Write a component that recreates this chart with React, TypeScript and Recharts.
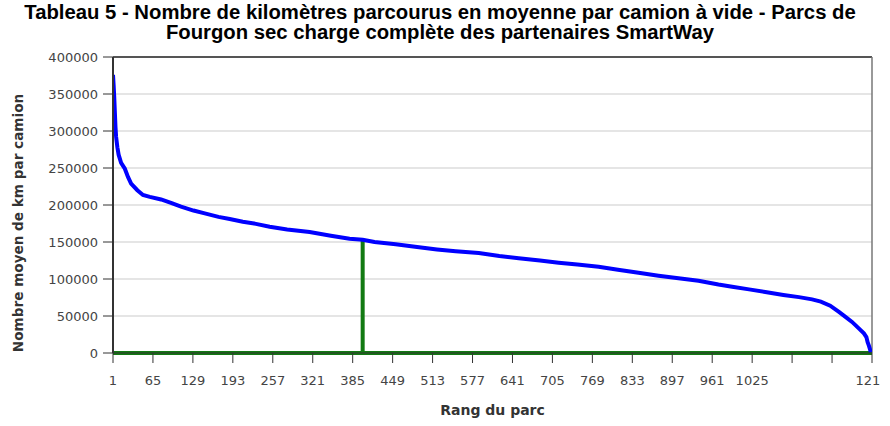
import { CartesianGrid, Line, LineChart, ReferenceLine, XAxis, YAxis } from "recharts";

const fleetRanks = [
  1, 2, 3, 4, 5, 6, 8, 10, 14, 20, 25, 30, 40, 49, 60, 78, 95, 110, 130, 148, 170, 188, 209, 230,
  252, 280, 316, 350, 380, 401, 420, 454, 485, 520, 550, 587, 620, 651, 685, 715, 745, 779, 810,
  843, 875, 907, 939, 971, 993, 1020, 1046, 1075, 1100, 1121, 1135, 1150, 1164, 1175, 1185, 1195,
  1204, 1208, 1210, 1212, 1214, 1215
];
const fleetKm = [
  376000, 362000, 345000, 325000, 305000, 292000, 278000, 268000, 257000, 249000, 238000, 229000,
  220000, 213500, 211000, 207500, 202500, 197700, 192500, 188700, 184000, 181000, 177400, 174500,
  170600, 167000, 163500, 158500, 154500, 153000, 150000, 147000, 143500, 140000, 137500, 135000,
  131000, 128000, 125000, 122000, 119500, 116500, 112500, 108500, 104500, 101000, 97500, 92500,
  89500, 86000, 82500, 78500, 75500, 72500, 69500, 64000, 55500, 48500, 42000, 34000, 26500,
  21500, 14500, 10000, 4500, 1000
];

// green marker: baseline plus the highlighted fleet position
const markerRanks = [1, 401, 401, 401, 1217];
const markerKm = [0, 0, 153000, 0, 0];

const xTicks = [1, 65, 129, 193, 257, 321, 385, 449, 513, 577, 641, 705, 769, 833, 897, 961, 1025, 1089, 1153, 1217];
const xHiddenTicks = [1089, 1153];
const yTicks = [0, 50000, 100000, 150000, 200000, 250000, 300000, 350000, 400000];

const fleetData = fleetRanks.map((rank, i) => ({ rank, km: fleetKm[i] }));
const markerData = markerRanks.map((rank, i) => ({ rank, km: markerKm[i] }));

const tickFont = { fill: "#444", fontSize: 13, fontFamily: "DejaVu Sans, Verdana, sans-serif" };

export default function App() {
  return (
    <div style={{ position: "absolute", left: 0, top: 0, width: 890, height: 426, background: "#fff" }}>
      <div
        style={{
          position: "absolute",
          top: 2,
          left: 0,
          width: 880,
          textAlign: "center",
          fontFamily: "'Liberation Sans', Arial, sans-serif",
          fontWeight: "bold",
          fontSize: 20.3,
          lineHeight: "20px",
          color: "#000"
        }}
      >
        Tableau 5 - Nombre de kilomètres parcourus en moyenne par camion à vide - Parcs de
        <br />
        Fourgon sec charge complète des partenaires SmartWay
      </div>
      <div style={{ position: "absolute", left: 0, top: 0 }}>
        <LineChart width={880} height={426} margin={{ top: 57, right: 8, bottom: 0, left: 0 }}>
          <CartesianGrid vertical={false} stroke="#dddddd" strokeWidth={1.5} />
          <XAxis
            dataKey="rank"
            type="number"
            domain={[1, 1217]}
            ticks={xTicks}
            interval={0}
            allowDataOverflow
            height={73}
            tickSize={10}
            tickMargin={13}
            tick={tickFont}
            tickLine={{ stroke: "#333" }}
            axisLine={{ stroke: "#333" }}
            tickFormatter={(v) => (xHiddenTicks.includes(v) ? "" : String(v))}
            label={{
              value: "Rang du parc",
              position: "insideBottom",
              offset: 11,
              fill: "#333",
              fontSize: 14,
              fontWeight: "bold",
              fontFamily: "DejaVu Sans, Verdana, sans-serif"
            }}
          />
          <YAxis
            domain={[0, 400000]}
            ticks={yTicks}
            interval={0}
            width={113}
            tickSize={10}
            tickMargin={5}
            tick={tickFont}
            tickLine={{ stroke: "#333" }}
            axisLine={{ stroke: "#333", strokeWidth: 2 }}
            label={{
              content: ({ viewBox }: any) => {
                const cx = viewBox.x + 18;
                const cy = viewBox.y + viewBox.height / 2 + 18;
                return (
                  <text
                    x={cx}
                    y={cy}
                    transform={`rotate(-90 ${cx} ${cy})`}
                    textAnchor="middle"
                    dominantBaseline="central"
                    fill="#333"
                    fontSize={13.6}
                    fontWeight="bold"
                    fontFamily="DejaVu Sans, Verdana, sans-serif"
                  >
                    Nombre moyen de km par camion
                  </text>
                );
              }
            }}
          />
          <ReferenceLine y={400000} stroke="#555" strokeWidth={2} />
          <ReferenceLine x={1217} stroke="#777" strokeWidth={1.5} />
          <Line
            data={markerData}
            dataKey="km"
            type="linear"
            stroke="#127a12"
            strokeWidth={4}
            dot={false}
            activeDot={false}
            isAnimationActive={false}
          />
          <Line
            data={fleetData}
            dataKey="km"
            type="linear"
            stroke="#0000ff"
            strokeWidth={4}
            dot={false}
            activeDot={false}
            isAnimationActive={false}
          />
        </LineChart>
      </div>
    </div>
  );
}
